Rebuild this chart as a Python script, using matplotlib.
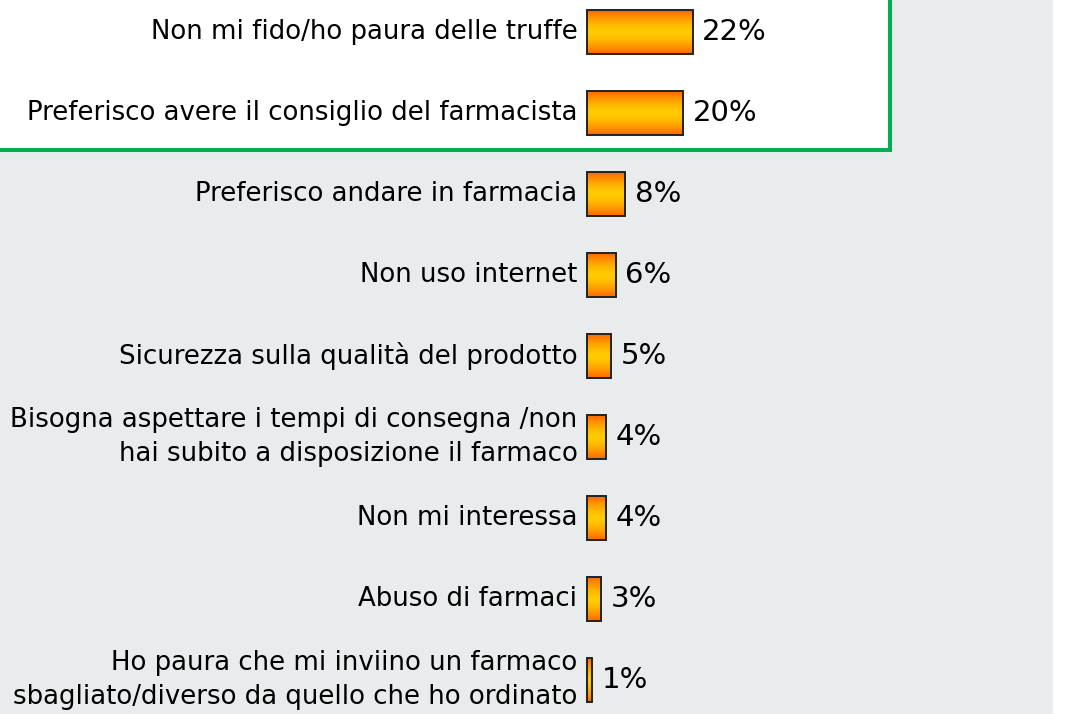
import numpy as np
import matplotlib.pyplot as plt
from matplotlib.patches import Rectangle

labels = [
    "Non mi fido/ho paura delle truffe",
    "Preferisco avere il consiglio del farmacista",
    "Preferisco andare in farmacia",
    "Non uso internet",
    "Sicurezza sulla qualità del prodotto",
    "Bisogna aspettare i tempi di consegna /non\nhai subito a disposizione il farmaco",
    "Non mi interessa",
    "Abuso di farmaci",
    "Ho paura che mi inviino un farmaco\nsbagliato/diverso da quello che ho ordinato",
]
values = [22, 20, 8, 6, 5, 4, 4, 3, 1]

W, H = 1065, 714
fig = plt.figure(figsize=(W / 100, H / 100), dpi=100)
fig.patch.set_facecolor("white")

# gray panel stops at x=1053 px
ax = fig.add_axes([0, 0, 1053 / W, 1])
ax.set_facecolor("#e8eced")
for s in ax.spines.values():
    s.set_visible(False)
ax.set_xticks([])
ax.set_yticks([])

px_per = 4.8
x0 = 587

# highlight box for the top two answers
box = Rectangle((-0.02, 1 - 150 / H), 890 / 1053 + 0.02, 150 / H + 0.05,
                transform=ax.transAxes, facecolor="white",
                edgecolor="#00b050", linewidth=2.9, zorder=1)
ax.add_patch(box)

# vertical gradient: orange at edges, yellow in the middle
t = np.linspace(0, 1, 64)
orange = np.array([1.0, 0.40, 0.0])
yellow = np.array([1.0, 0.80, 0.0])
w = 1 - np.abs(2 * t - 1) ** 1.5
grad = (orange[None, :] * (1 - w[:, None]) + yellow[None, :] * w[:, None])[:, None, :]

y = np.arange(len(values))
bars = ax.barh(y, values, height=0.54, color="none",
               edgecolor="#222222", linewidth=1.4, zorder=3)
for bar in bars:
    bx, by = bar.get_x(), bar.get_y()
    bw, bh = bar.get_width(), bar.get_height()
    im = ax.imshow(grad, extent=(bx, bx + bw, by + bh, by), aspect="auto",
                   zorder=2, interpolation="bilinear")
    im.set_clip_path(bar)
ax.set_xlim(-x0 / px_per, (1053 - x0) / px_per)
ax.set_ylim((H - 32) / 81, -32 / 81)

fs = 18.7
for i, (lab, v) in enumerate(zip(labels, values)):
    ax.text(-2.0, i, lab, ha="right", va="center", fontsize=fs,
            multialignment="right", linespacing=1.4, zorder=4)
    ax.text(v + 2.0, i, f"{v}%", ha="left", va="center", fontsize=21, zorder=4)

fig.savefig("out.png", dpi=100)
